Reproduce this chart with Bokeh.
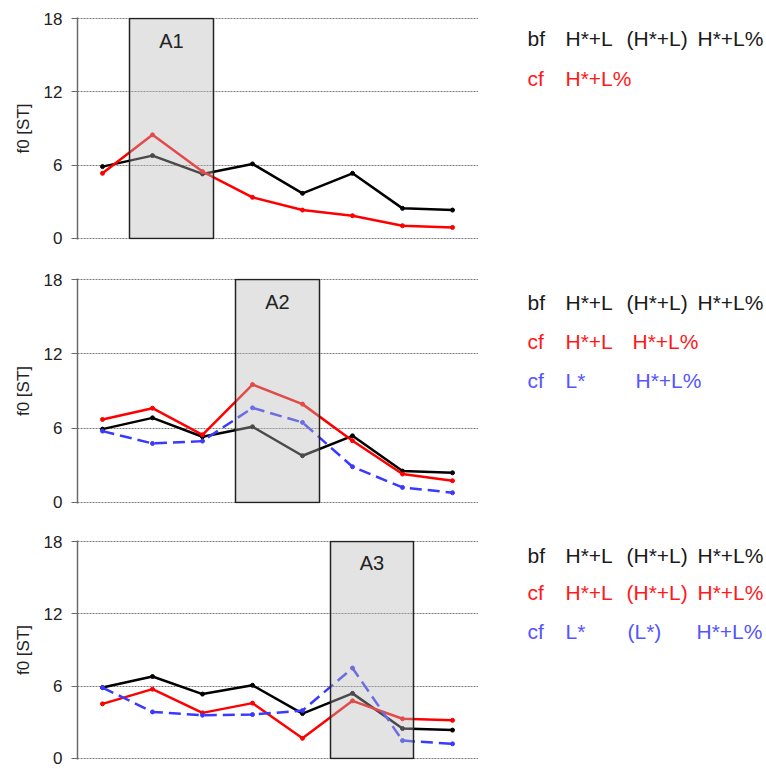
from bokeh.plotting import figure
from bokeh.layouts import column, row
from bokeh.models import Range1d, Label, FixedTicker, ColumnDataSource
from bokeh.embed import file_html
from bokeh.resources import INLINE

# ---------------- data ----------------
positions = [1, 2, 3, 4, 5, 6, 7, 8]
y_ticks = [0, 6, 12, 18]

# panel 1
p1_bf = [5.88, 6.78, 5.28, 6.10, 3.69, 5.33, 2.46, 2.32]
p1_cf = [5.33, 8.48, 5.47, 3.36, 2.32, 1.86, 1.04, 0.90]
# panel 2
p2_bf = [5.92, 6.83, 5.30, 6.11, 3.77, 5.38, 2.53, 2.39]
p2_cf_red = [6.70, 7.61, 5.46, 9.52, 7.94, 4.98, 2.29, 1.75]
p2_cf_blue = [5.76, 4.76, 4.95, 7.64, 6.46, 2.88, 1.21, 0.78]
# panel 3
p3_bf = [5.88, 6.80, 5.34, 6.07, 3.72, 5.40, 2.48, 2.35]
p3_cf_red = [4.53, 5.75, 3.78, 4.59, 1.67, 4.78, 3.29, 3.16]
p3_cf_blue = [5.88, 3.86, 3.59, 3.64, 3.97, 7.50, 1.48, 1.21]

box_labels = ["A1", "A2", "A3"]
box_left = [1.54, 3.66, 5.56]
box_right = [3.22, 5.34, 7.22]

legend_rows = [
    [("bf", "H*+L", "(H*+L)", "H*+L%"), ("cf", "H*+L%", "", "")],
    [("bf", "H*+L", "(H*+L)", "H*+L%"), ("cf", "H*+L", "", "H*+L%"), ("cf", "L*", "", "H*+L%")],
    [("bf", "H*+L", "(H*+L)", "H*+L%"), ("cf", "H*+L", "(H*+L)", "H*+L%"), ("cf", "L*", "(L*)", "H*+L%")],
]

BLACK = "#000000"
RED = "#ff0000"
BLUE = "#3a3aff"
TXT_BLACK = "#1a1a1a"
TXT_RED = "#ff1a1a"
TXT_BLUE = "#5555ff"
FONT = "Liberation Sans"

MAIN_W = 478
LEG_W = 288
PAD = 0.09  # small y padding so the 0 and 18 gridlines are not clipped


def make_panel(idx, series, height, top, frame_h, legend_y, legend_cols, legend_colors):
    bottom = height - top - frame_h
    p = figure(width=MAIN_W, height=height, output_backend="svg", toolbar_location=None,
               x_range=Range1d(0.5, 8.52), y_range=Range1d(-PAD, 18 + PAD),
               x_axis_location=None, min_border_left=77, min_border_right=0,
               min_border_top=top, min_border_bottom=bottom)
    p.outline_line_color = None
    p.xgrid.visible = False
    p.ygrid.grid_line_color = "#7a7a7a"
    p.ygrid.grid_line_dash = "2 1"
    p.ygrid.grid_line_width = 1.2
    yax = p.yaxis[0]
    yax.ticker = FixedTicker(ticks=y_ticks)
    yax.minor_tick_line_color = None
    yax.major_tick_in = 0
    yax.major_tick_out = 6
    yax.major_tick_line_color = "#6a6a6a"
    yax.axis_line_color = "#6a6a6a"
    yax.axis_line_width = 1.5
    yax.major_label_text_font = FONT
    yax.major_label_text_font_size = "17px"
    yax.major_label_text_color = "#222222"
    yax.major_label_standoff = 9
    yax.axis_label = "f0 [ST]"
    yax.axis_label_text_font = FONT
    yax.axis_label_text_font_size = "17px"
    yax.axis_label_text_font_style = "normal"
    yax.axis_label_text_color = "#222222"
    yax.axis_label_standoff = 8

    for vals, color, dash in series:
        src = ColumnDataSource(dict(x=positions, y=vals))
        p.line("x", "y", source=src, line_color=color, line_width=2.5, line_dash=dash)
        p.scatter("x", "y", source=src, size=4, color=color, marker="circle")

    # translucent box overlaid on the lines
    p.quad(left=[box_left[idx]], right=[box_right[idx]], bottom=[0], top=[18],
           fill_color="#bababa", fill_alpha=0.4, line_color="#222222", line_width=1.5)
    p.add_layout(Label(x=(box_left[idx] + box_right[idx]) / 2, y=16.2, text=box_labels[idx],
                       text_font=FONT, text_font_size="20px", text_color="#222222",
                       text_align="center", text_baseline="middle"))

    # legend text panel to the right
    lg = figure(width=LEG_W, height=height, output_backend="svg", toolbar_location=None,
                x_range=Range1d(MAIN_W, MAIN_W + LEG_W), y_range=Range1d(-PAD, 18 + PAD),
                x_axis_location=None, y_axis_location=None,
                min_border_left=0, min_border_right=0,
                min_border_top=top, min_border_bottom=bottom)
    lg.outline_line_color = None
    lg.grid.visible = False
    for r, toks in enumerate(legend_rows[idx]):
        for c, tok in enumerate(toks):
            if not tok:
                continue
            lg.add_layout(Label(x=legend_cols[r][c], y=legend_y[r], text=tok,
                                text_font=FONT, text_font_size="21px",
                                text_color=legend_colors[r], text_baseline="middle"))
    return row(p, lg)


p1 = make_panel(0, [(p1_bf, BLACK, "solid"), (p1_cf, RED, "solid")],
                259, 17, 222, [16.36, 13.09],
                [[527, 565, 626, 697], [527, 565, 0, 0]],
                [TXT_BLACK, TXT_RED])
p2 = make_panel(1, [(p2_bf, BLACK, "solid"), (p2_cf_red, RED, "solid"), (p2_cf_blue, BLUE, "12 6")],
                262, 19, 225, [16.14, 13.0, 9.85],
                [[527, 565, 626, 697], [527, 565, 0, 632], [527, 565, 0, 635]],
                [TXT_BLACK, TXT_RED, TXT_BLUE])
p3 = make_panel(2, [(p3_bf, BLACK, "solid"), (p3_cf_red, RED, "solid"), (p3_cf_blue, BLUE, "12 6")],
                247, 19, 219, [16.87, 13.79, 10.54],
                [[527, 565, 626, 697], [527, 565, 626, 697], [527, 565, 627, 696]],
                [TXT_BLACK, TXT_RED, TXT_BLUE])

layout = column(p1, p2, p3)
open("out.html", "w").write(file_html(layout, INLINE))
